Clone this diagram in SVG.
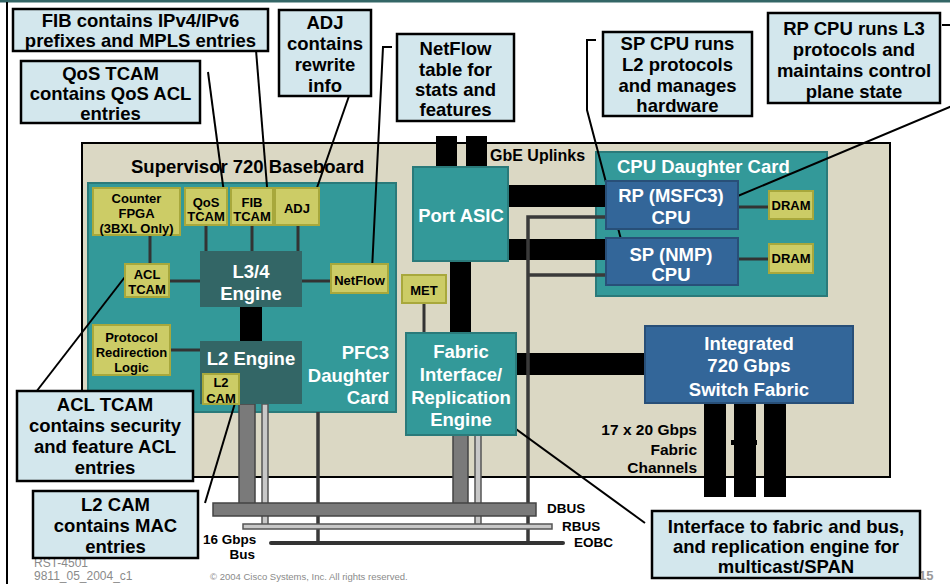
<svg xmlns="http://www.w3.org/2000/svg" width="950" height="584" viewBox="0 0 950 584">
<style>
  text { font-family: "Liberation Sans", Arial, sans-serif; font-weight: bold; }
  .call { fill: #d3e7ed; stroke: #000; stroke-width: 2.5; }
  .ct { font-size: 18.5px; fill: #000; text-anchor: middle; }
  .teal { fill: #339999; stroke: #2a7a7a; stroke-width: 2; }
  .dteal { fill: #336666; }
  .blue { fill: #336699; stroke: #284f78; stroke-width: 2; }
  .olive { fill: #cccc66; stroke: #a8a83c; stroke-width: 2; }
  .ot { font-size: 13px; fill: #000; text-anchor: middle; }
  .wt { font-size: 18.5px; fill: #fff; text-anchor: middle; }
  .bt { font-size: 13.5px; fill: #000; }
  .lead { fill: none; stroke: #000; stroke-width: 2; }
  .link { stroke: #333; stroke-width: 3; fill: none; }
  .thick { fill: #000; }
  .gbar { fill: #7a7a7a; stroke: #444; stroke-width: 1.5; }
  .lbar { fill: #c8c8c8; stroke: #555; stroke-width: 1.5; }
  .eobc { stroke: #333; stroke-width: 4; stroke-linecap: round; fill: none; }
  .foot { font-weight: normal; fill: #8a8a8a; }
</style>
<rect x="0" y="0" width="950" height="584" fill="#fff"/>
<rect x="0" y="0" width="950" height="2.5" fill="#336666"/>
<line x1="7" y1="2" x2="7" y2="584" stroke="#000" stroke-width="2"/>

<g id="baseboard">
  <rect x="82" y="143" width="808" height="334" fill="#dbd8c4" stroke="#000" stroke-width="2"/>
  <text x="131" y="172.5" style="font-size:18.5px" fill="#000">Supervisor 720 Baseboard</text>
</g>

<g id="pfc3">
  <rect class="teal" x="88" y="183" width="308" height="229"/>
  <text class="wt" x="389" y="358.5" text-anchor="end" style="text-anchor:end">PFC3</text>
  <text class="wt" x="389" y="381.5" style="text-anchor:end">Daughter</text>
  <text class="wt" x="389" y="403.5" style="text-anchor:end">Card</text>
</g>

<g id="cpu-card">
  <rect class="teal" x="596" y="152" width="231" height="144"/>
  <text x="617" y="172.5" style="font-size:18.5px" fill="#fff">CPU Daughter Card</text>
</g>

<!-- connectors -->
<g id="connectors">
  <!-- thick black data paths -->
  <rect class="thick" x="436" y="136" width="21" height="31"/>
  <rect class="thick" x="466" y="136" width="21" height="31"/>
  <rect class="thick" x="450" y="261" width="21" height="72"/>
  <rect class="thick" x="508" y="185" width="98" height="22"/>
  <rect class="thick" x="508" y="239" width="98" height="21"/>
  <rect class="thick" x="516" y="353" width="129" height="22"/>
  <rect class="thick" x="240" y="307" width="22" height="34"/>
  <rect class="thick" x="704" y="403" width="22" height="94"/>
  <rect class="thick" x="734" y="403" width="22" height="94"/>
  <rect class="thick" x="764" y="403" width="22" height="94"/>
  <rect class="thick" x="731" y="440" width="26" height="5"/>
  <!-- internal links -->
  <line class="link" x1="206" y1="225" x2="206" y2="251"/>
  <line class="link" x1="252" y1="225" x2="252" y2="251"/>
  <line class="link" x1="298" y1="225" x2="298" y2="251"/>
  <line class="link" x1="150" y1="236" x2="150" y2="264"/>
  <line class="link" x1="169" y1="281" x2="200" y2="281"/>
  <line class="link" x1="302" y1="281" x2="331" y2="281"/>
  <line class="link" x1="170" y1="350" x2="200" y2="350"/>
  <line class="link" x1="424" y1="303" x2="424" y2="333"/>
  <line class="link" x1="738" y1="207" x2="769" y2="207"/>
  <line class="link" x1="738" y1="259" x2="769" y2="259"/>
  <!-- EOBC control lines -->
  <polyline fill="none" stroke="#3a3a3a" stroke-width="3.5" points="606,217 528,217 528,543"/>
  <line x1="528" y1="275" x2="606" y2="275" stroke="#3a3a3a" stroke-width="3.5"/>
  <line x1="318" y1="412" x2="318" y2="543" stroke="#3a3a3a" stroke-width="3.5"/>
  <!-- bus drops -->
  <rect class="gbar" x="239" y="404" width="16" height="100"/>
  <rect class="lbar" x="262" y="404" width="6" height="121"/>
  <rect class="gbar" x="453" y="435" width="15" height="69"/>
  <rect class="lbar" x="475" y="435" width="6" height="90"/>
  <!-- buses -->
  <rect class="gbar" x="213" y="503" width="323" height="13"/>
  <rect class="lbar" x="243" y="524" width="309" height="5"/>
  <line class="eobc" x1="271" y1="543" x2="563" y2="543"/>
  <!-- callout leaders -->
  <line class="lead" x1="256" y1="50" x2="268" y2="199"/>
  <line class="lead" x1="208" y1="72" x2="224" y2="193"/>
  <line class="lead" x1="349" y1="96" x2="312" y2="202"/>
  <polyline class="lead" points="392,47 383,47 372,270"/>
  <polyline class="lead" points="596,40 587,40 587,110 623,247"/>
  <polyline class="lead" points="942,25 952,25 952,106 733,198"/>
  <line class="lead" x1="36" y1="392" x2="128" y2="273"/>
  <line class="lead" x1="205" y1="503" x2="235" y2="403"/>
  <line class="lead" x1="498" y1="416" x2="645" y2="523"/>
</g>

<g id="counter-fpga">
  <rect class="olive" x="93" y="188" width="87" height="47"/>
  <text class="ot" x="136.5" y="203">Counter</text>
  <text class="ot" x="136.5" y="218">FPGA</text>
  <text class="ot" x="136.5" y="233">(3BXL Only)</text>
</g>
<g id="qos-tcam">
  <rect class="olive" x="185" y="188" width="42" height="37"/>
  <text class="ot" x="206" y="207">QoS</text>
  <text class="ot" x="206" y="221">TCAM</text>
</g>
<g id="fib-tcam">
  <rect class="olive" x="231" y="188" width="42" height="37"/>
  <text class="ot" x="252" y="207">FIB</text>
  <text class="ot" x="252" y="221">TCAM</text>
</g>
<g id="adj">
  <rect class="olive" x="275" y="188" width="44" height="37"/>
  <text class="ot" x="297" y="213">ADJ</text>
</g>
<g id="l34-engine">
  <rect class="dteal" x="200" y="251" width="102" height="56"/>
  <text class="wt" x="251" y="277.5">L3/4</text>
  <text class="wt" x="251" y="299.5">Engine</text>
</g>
<g id="acl-tcam">
  <rect class="olive" x="125" y="264" width="44" height="33"/>
  <text class="ot" x="147" y="279">ACL</text>
  <text class="ot" x="147" y="294">TCAM</text>
</g>
<g id="netflow">
  <rect class="olive" x="331" y="264" width="57" height="29"/>
  <text class="ot" x="359.5" y="285">NetFlow</text>
</g>
<g id="protocol-redirection">
  <rect class="olive" x="93" y="325" width="77" height="50"/>
  <text class="ot" x="131.5" y="342">Protocol</text>
  <text class="ot" x="131.5" y="357">Redirection</text>
  <text class="ot" x="131.5" y="372">Logic</text>
</g>
<g id="l2-engine">
  <rect class="dteal" x="200" y="341" width="102" height="63"/>
  <text class="wt" x="251" y="364.5">L2 Engine</text>
</g>
<g id="l2-cam">
  <rect class="olive" x="203" y="374" width="36" height="30"/>
  <text class="ot" x="221" y="387">L2</text>
  <text class="ot" x="221" y="403">CAM</text>
</g>
<g id="port-asic">
  <rect class="teal" x="413" y="167" width="95" height="94"/>
  <text class="wt" x="461" y="221.5">Port ASIC</text>
</g>
<g id="met">
  <rect class="olive" x="402" y="275" width="44" height="28"/>
  <text class="ot" x="424" y="295">MET</text>
</g>
<g id="fabric-interface">
  <rect class="teal" x="406" y="333" width="110" height="102"/>
  <text class="wt" x="461" y="357.5">Fabric</text>
  <text class="wt" x="461" y="380.5">Interface/</text>
  <text class="wt" x="461" y="403.5">Replication</text>
  <text class="wt" x="461" y="425.5">Engine</text>
</g>
<g id="rp-cpu">
  <rect class="blue" x="606" y="181" width="132" height="48"/>
  <text class="wt" x="671" y="201.5">RP (MSFC3)</text>
  <text class="wt" x="671" y="223.5">CPU</text>
</g>
<g id="sp-cpu">
  <rect class="blue" x="606" y="238" width="132" height="47"/>
  <text class="wt" x="671" y="260.5">SP (NMP)</text>
  <text class="wt" x="671" y="280.5">CPU</text>
</g>
<g id="dram1">
  <rect class="olive" x="769" y="191" width="44" height="28"/>
  <text class="ot" x="791" y="210">DRAM</text>
</g>
<g id="dram2">
  <rect class="olive" x="769" y="244" width="44" height="29"/>
  <text class="ot" x="791" y="263">DRAM</text>
</g>
<g id="switch-fabric">
  <rect class="blue" x="645" y="326" width="208" height="77"/>
  <text class="wt" x="749" y="349.5">Integrated</text>
  <text class="wt" x="749" y="371.5">720 Gbps</text>
  <text class="wt" x="749" y="395.5">Switch Fabric</text>
</g>

<g id="labels">
  <text x="490" y="161" style="font-size:16px" fill="#000">GbE Uplinks</text>
  <text x="697" y="434.5" style="font-size:15.5px" fill="#000" text-anchor="end">17 x 20 Gbps</text>
  <text x="697" y="454.5" style="font-size:15.5px" fill="#000" text-anchor="end">Fabric</text>
  <text x="697" y="472.5" style="font-size:15.5px" fill="#000" text-anchor="end">Channels</text>
  <text class="bt" x="547" y="513">DBUS</text>
  <text class="bt" x="562" y="531">RBUS</text>
  <text class="bt" x="574" y="547">EOBC</text>
  <text class="bt" x="203" y="544">16 Gbps</text>
  <text class="bt" x="255" y="559" text-anchor="end">Bus</text>
</g>

<g id="footer">
  <text class="foot" x="34" y="567" style="font-size:12px">RST-4501</text>
  <text class="foot" x="34" y="580" style="font-size:12px">9811_05_2004_c1</text>
  <text class="foot" x="210" y="580" style="font-size:9.5px">© 2004 Cisco Systems, Inc. All rights reserved.</text>
  <text x="919" y="580" style="font-size:13px" fill="#999">15</text>
</g>

<g id="callout-fib">
  <rect class="call" x="13" y="9" width="255" height="42"/>
  <text class="ct" x="140.5" y="26.5">FIB contains IPv4/IPv6</text>
  <text class="ct" x="140.5" y="46.5">prefixes and MPLS entries</text>
</g>
<g id="callout-qos">
  <rect class="call" x="21" y="61" width="179" height="62"/>
  <text class="ct" x="110.5" y="79.5">QoS TCAM</text>
  <text class="ct" x="110.5" y="99.5">contains QoS ACL</text>
  <text class="ct" x="110.5" y="119.5">entries</text>
</g>
<g id="callout-adj">
  <rect class="call" x="279" y="10" width="92" height="86"/>
  <text class="ct" x="325" y="28.5">ADJ</text>
  <text class="ct" x="325" y="49.5">contains</text>
  <text class="ct" x="325" y="70.5">rewrite</text>
  <text class="ct" x="325" y="91.5">info</text>
</g>
<g id="callout-netflow">
  <rect class="call" x="397" y="34" width="117" height="87"/>
  <text class="ct" x="455.5" y="54.5">NetFlow</text>
  <text class="ct" x="455.5" y="75.5">table for</text>
  <text class="ct" x="455.5" y="95.5">stats and</text>
  <text class="ct" x="455.5" y="115.5">features</text>
</g>
<g id="callout-sp">
  <rect class="call" x="603" y="32" width="149" height="84"/>
  <text class="ct" x="677.5" y="49.5">SP CPU runs</text>
  <text class="ct" x="677.5" y="70.5">L2 protocols</text>
  <text class="ct" x="677.5" y="91.5">and manages</text>
  <text class="ct" x="677.5" y="111.5">hardware</text>
</g>
<g id="callout-rp">
  <rect class="call" x="768" y="13" width="172" height="90"/>
  <text class="ct" x="854" y="34.5">RP CPU runs L3</text>
  <text class="ct" x="854" y="55.5">protocols and</text>
  <text class="ct" x="854" y="76.5">maintains control</text>
  <text class="ct" x="854" y="97.5">plane state</text>
</g>
<g id="callout-acl">
  <rect class="call" x="17" y="391" width="176" height="90"/>
  <text class="ct" x="105" y="410.5">ACL TCAM</text>
  <text class="ct" x="105" y="431.5">contains security</text>
  <text class="ct" x="105" y="452.5">and feature ACL</text>
  <text class="ct" x="105" y="473.5">entries</text>
</g>
<g id="callout-l2cam">
  <rect class="call" x="33" y="491" width="165" height="67"/>
  <text class="ct" x="115.5" y="510.5">L2 CAM</text>
  <text class="ct" x="115.5" y="531.5">contains MAC</text>
  <text class="ct" x="115.5" y="552.5">entries</text>
</g>
<g id="callout-fabric">
  <rect class="call" x="652" y="511" width="268" height="67"/>
  <text class="ct" x="786" y="532.5">Interface to fabric and bus,</text>
  <text class="ct" x="786" y="552.5">and replication engine for</text>
  <text class="ct" x="786" y="572.5">multicast/SPAN</text>
</g>
</svg>
